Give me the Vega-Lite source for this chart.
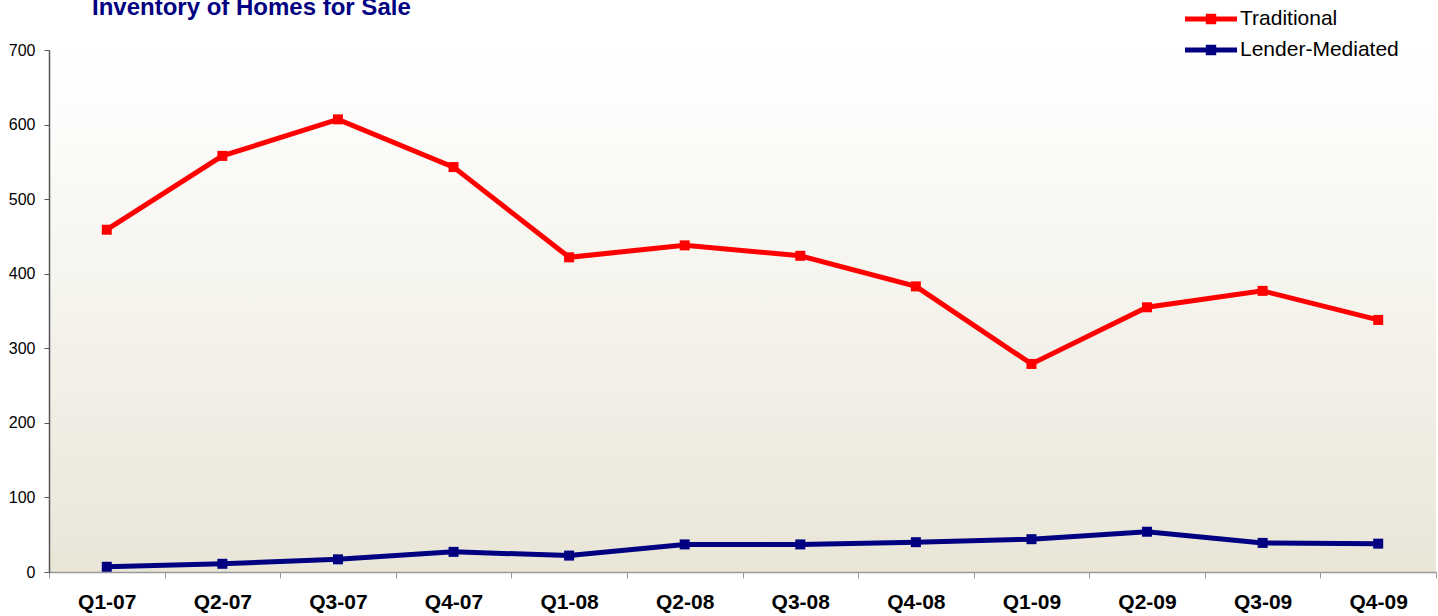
{
  "$schema": "https://vega.github.io/schema/vega-lite/v6.json",
  "autosize": {"type": "none"},
  "width": 1387,
  "height": 522,
  "padding": {"left": 49, "top": 50, "right": 2, "bottom": 44},
  "background": "white",
  "title": {
    "text": "Inventory of Homes for Sale",
    "anchor": "start",
    "frame": "group",
    "font": "Liberation Sans",
    "fontSize": 24,
    "fontWeight": "bold",
    "color": "#000080",
    "baseline": "alphabetic",
    "dx": 43,
    "dy": 33,
    "offset": 0
  },
  "config": {
    "view": {
      "stroke": null,
      "fill": {"gradient": "linear", "x1": 0, "y1": 0, "x2": 0, "y2": 1,
        "stops": [
          {"offset": 0, "color": "#ffffff"},
          {"offset": 0.07, "color": "#fefefd"},
          {"offset": 1, "color": "#e9e6d8"}
        ]}
    },
    "font": "Liberation Sans"
  },
  "data": {
    "values": [
      {"q": "Q1-07", "s": "Traditional", "v": 459},
      {"q": "Q2-07", "s": "Traditional", "v": 558},
      {"q": "Q3-07", "s": "Traditional", "v": 607},
      {"q": "Q4-07", "s": "Traditional", "v": 543},
      {"q": "Q1-08", "s": "Traditional", "v": 422},
      {"q": "Q2-08", "s": "Traditional", "v": 438},
      {"q": "Q3-08", "s": "Traditional", "v": 424},
      {"q": "Q4-08", "s": "Traditional", "v": 383},
      {"q": "Q1-09", "s": "Traditional", "v": 279},
      {"q": "Q2-09", "s": "Traditional", "v": 355},
      {"q": "Q3-09", "s": "Traditional", "v": 377},
      {"q": "Q4-09", "s": "Traditional", "v": 338},
      {"q": "Q1-07", "s": "Lender-Mediated", "v": 7},
      {"q": "Q2-07", "s": "Lender-Mediated", "v": 11},
      {"q": "Q3-07", "s": "Lender-Mediated", "v": 17},
      {"q": "Q4-07", "s": "Lender-Mediated", "v": 27},
      {"q": "Q1-08", "s": "Lender-Mediated", "v": 22},
      {"q": "Q2-08", "s": "Lender-Mediated", "v": 37},
      {"q": "Q3-08", "s": "Lender-Mediated", "v": 37},
      {"q": "Q4-08", "s": "Lender-Mediated", "v": 40},
      {"q": "Q1-09", "s": "Lender-Mediated", "v": 44},
      {"q": "Q2-09", "s": "Lender-Mediated", "v": 54},
      {"q": "Q3-09", "s": "Lender-Mediated", "v": 39},
      {"q": "Q4-09", "s": "Lender-Mediated", "v": 38}
    ]
  },
  "mark": {"type": "line", "strokeWidth": 5, "point": {"shape": "square", "size": 100, "filled": true, "opacity": 1}},
  "encoding": {
    "x": {
      "field": "q", "type": "ordinal", "sort": null, "title": null,
      "scale": {"type": "band", "paddingInner": 0, "paddingOuter": 0},
      "axis": {
        "labelAngle": 0, "labelFont": "Liberation Sans", "labelFontSize": 21, "labelFontWeight": "bold",
        "labelColor": "#000000", "labelPadding": 13, "domainColor": "#999999", "domainWidth": 1.5,
        "tickColor": "#999999", "tickSize": 6, "tickBand": "extent", "grid": false
      }
    },
    "y": {
      "field": "v", "type": "quantitative", "title": null,
      "scale": {"domain": [0, 700], "nice": false},
      "axis": {
        "values": [0, 100, 200, 300, 400, 500, 600, 700], "labelFont": "Liberation Sans", "labelFontSize": 16,
        "labelColor": "#000000", "domainColor": "#555555", "domainWidth": 1.5, "tickColor": "#555555",
        "tickSize": 5, "labelPadding": 9, "grid": false
      }
    },
    "color": {
      "field": "s", "type": "nominal", "title": null,
      "scale": {"domain": ["Traditional", "Lender-Mediated"], "range": ["#ff0000", "#000080"]},
      "legend": {
        "orient": "none", "legendX": 1149, "legendY": -44,
        "symbolType": "M-2,-0.2H2V0.2H-2Z M-0.4,-0.4H0.4V0.4H-0.4Z",
        "symbolSize": 676, "symbolStrokeWidth": 0,
        "labelFontSize": 21, "labelFont": "Liberation Sans", "labelColor": "#000000",
        "rowPadding": 8, "labelOffset": 16,
        "encode": {"symbols": {"update": {"fill": {"scale": "color", "field": "value"}, "fillOpacity": {"value": 1}, "strokeWidth": {"value": 0}}}}
      }
    }
  }
}
